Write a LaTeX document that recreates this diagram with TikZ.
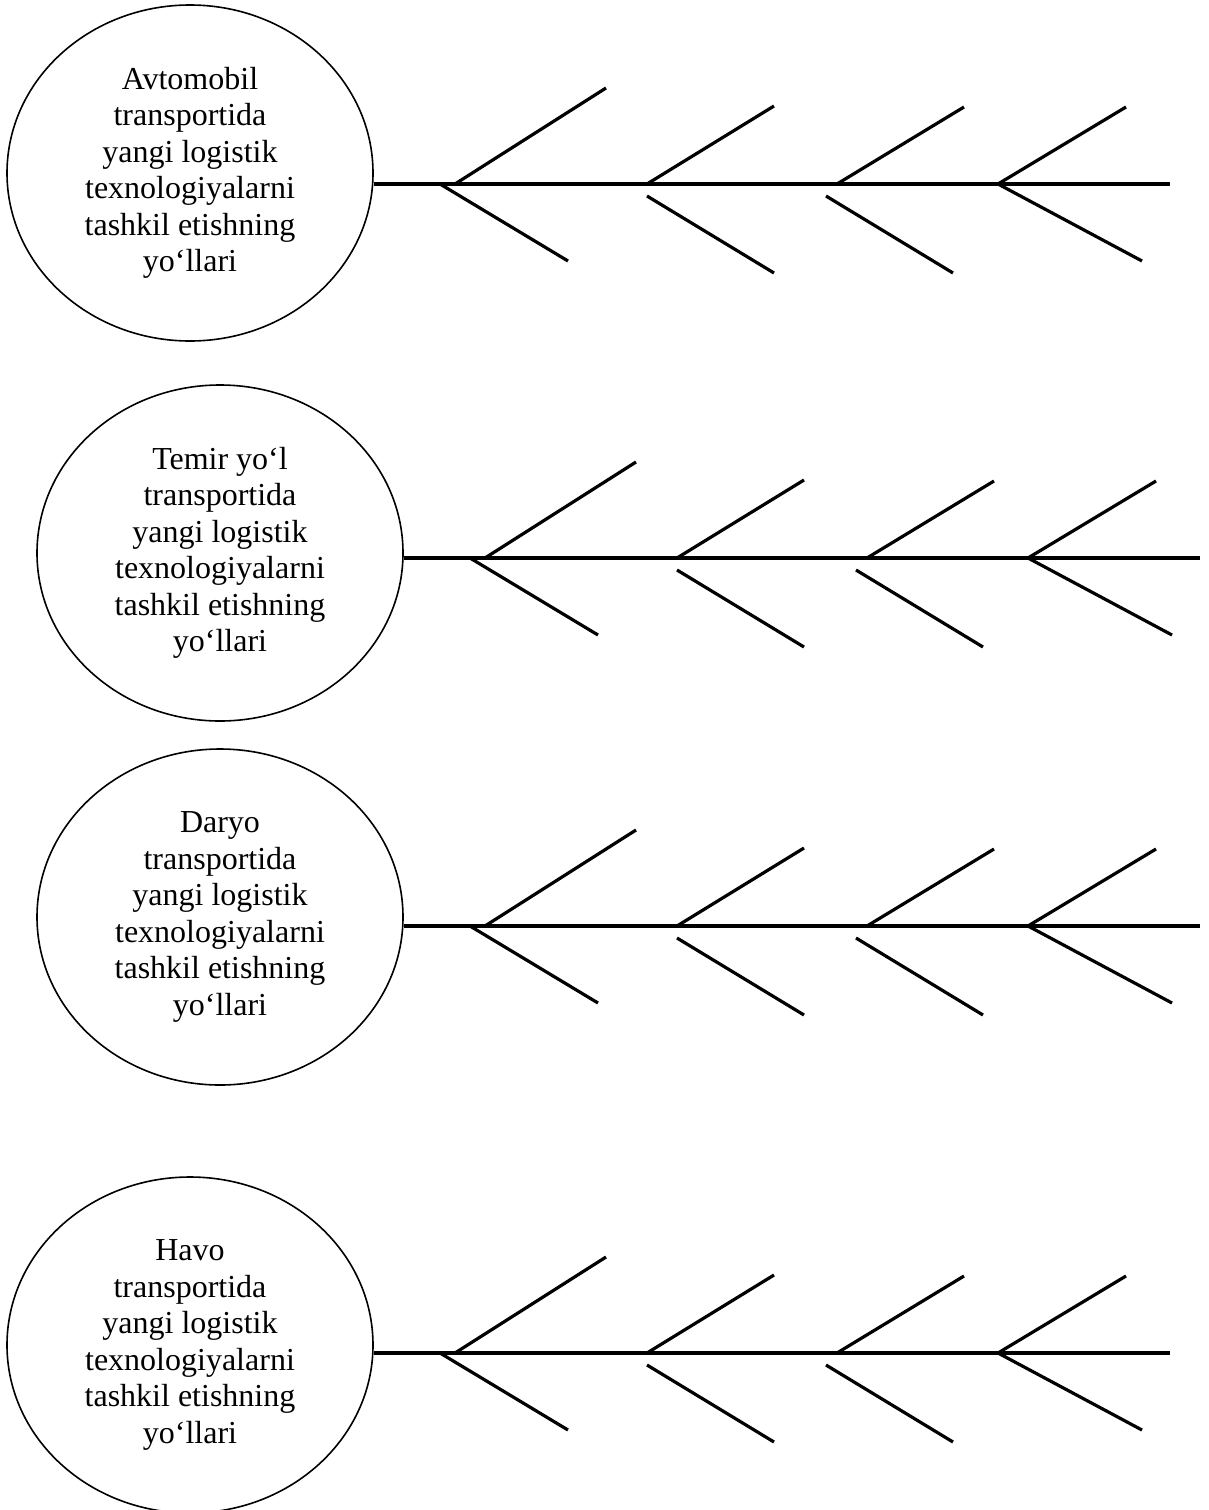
\documentclass[tikz,border=0pt]{standalone}
\usepackage{fontspec}
\setmainfont{Liberation Serif}
\usetikzlibrary{shapes.geometric}
\tikzset{
  oval/.style={draw, ellipse, line width=1.6pt, minimum width=366pt, minimum height=336pt,
    inner sep=0pt, align=center, font=\fontsize{32}{36.5}\selectfont},
  bone/.style={line width=3.2pt},
}
\newcommand{\fishgroup}[5]{%
  \begin{scope}[shift={(#2,#3)}]
    \node[oval] (e#1) at (190,{184+#4}) {#5\\transportida\\yangi logistik\\texnologiyalarni\\tashkil etishning\\yo‘llari};
    \coordinate (t#1) at (1170,184);
    \draw[bone] (e#1.east |- t#1) -- (t#1);
    \coordinate (a#1) at (455,184); \coordinate (A#1) at (606,88);
    \coordinate (b#1) at (440,184); \coordinate (B#1) at (568,261);
    \coordinate (c#1) at (647,184); \coordinate (C#1) at (774,106);
    \coordinate (d#1) at (647,196); \coordinate (D#1) at (774,273);
    \coordinate (f#1) at (837,184); \coordinate (F#1) at (964,107);
    \coordinate (g#1) at (826,196); \coordinate (G#1) at (953,273);
    \coordinate (h#1) at (998,184); \coordinate (H#1) at (1126,107);
    \coordinate (k#1) at (998,184); \coordinate (K#1) at (1142,261);
    \draw[bone] (a#1) -- (A#1);
    \draw[bone] (b#1) -- (B#1);
    \draw[bone] (c#1) -- (C#1);
    \draw[bone] (d#1) -- (D#1);
    \draw[bone] (f#1) -- (F#1);
    \draw[bone] (g#1) -- (G#1);
    \draw[bone] (h#1) -- (H#1);
    \draw[bone] (k#1) -- (K#1);
  \end{scope}}
\begin{document}
\begin{tikzpicture}[x=1pt,y=-1pt]
  \fill[white] (0,0) rectangle (1208,1510);
  \useasboundingbox (0,0) rectangle (1208,1510);
  \fishgroup{1}{0}{0}{-11}{Avtomobil}
  \fishgroup{2}{30}{374}{-5}{Temir yo‘l}
  \fishgroup{3}{30}{742}{-9}{Daryo}
  \fishgroup{4}{0}{1169}{-8}{Havo}
\end{tikzpicture}
\end{document}
